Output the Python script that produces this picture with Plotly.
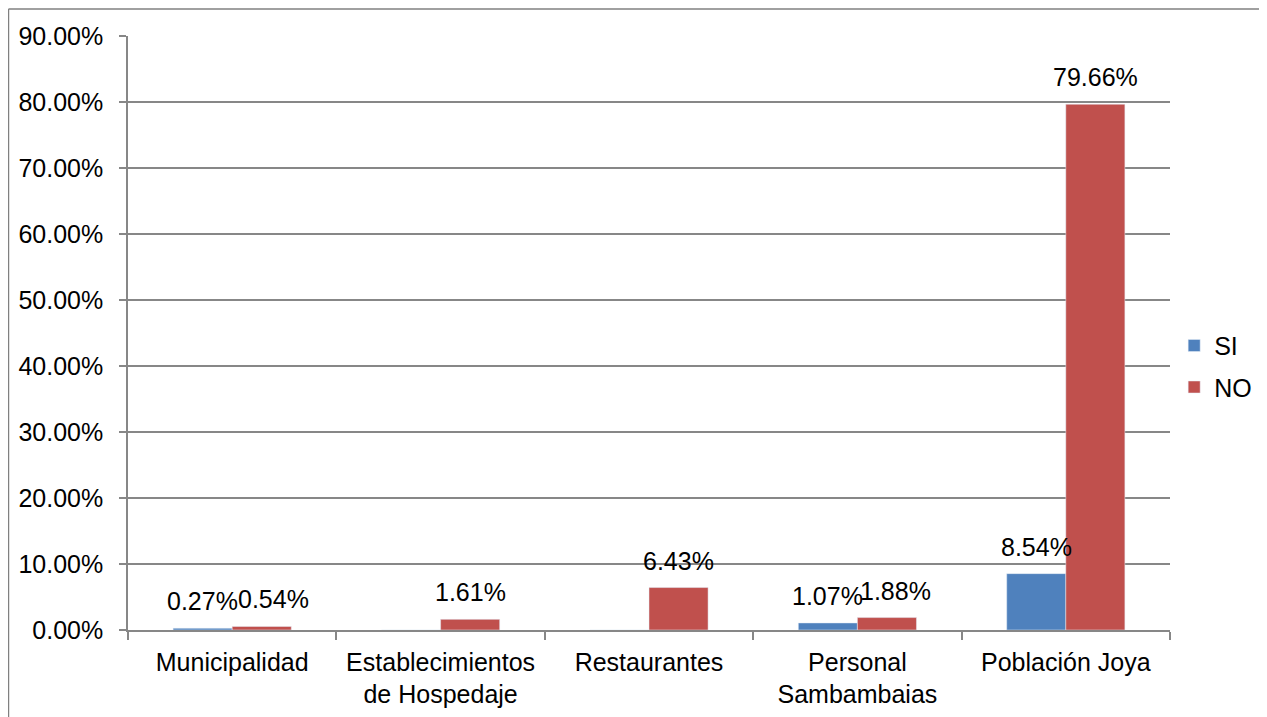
import plotly.graph_objects as go

categories = ["Municipalidad", "Establecimientos<br>de Hospedaje", "Restaurantes",
              "Personal<br>Sambambaias", "Población Joya"]
si_values = [0.0027, 0.0, 0.0, 0.0107, 0.0854]
no_values = [0.0054, 0.0161, 0.0643, 0.0188, 0.7966]
y_ticks = [0.0, 0.1, 0.2, 0.3, 0.4, 0.5, 0.6, 0.7, 0.8, 0.9]

BLUE = "#4F81BD"
RED = "#C0504D"
GRID = "#878787"
FONT = dict(family="Liberation Sans, Arial, sans-serif", size=25, color="#000000")

fig = go.Figure()
fig.add_trace(go.Bar(name="SI", x=categories, y=si_values, marker_color=BLUE,
                     legendgroup="si"))
fig.add_trace(go.Bar(name="NO", x=categories, y=no_values, marker_color=RED,
                     legendgroup="no"))

# extra horizontal nudges (px) for NO labels that collide with SI labels, as in the original
no_label_nudge = [12, 0, 0, 9, 0]

annotations = []
for vals, shift, nudges in ((si_values, -29.5, [0] * 5), (no_values, 29.5, no_label_nudge)):
    for c, v, n in zip(categories, vals, nudges):
        if v > 0:
            annotations.append(dict(x=c, y=v, xref="x", yref="y", text=f"{v*100:.2f}%",
                                    showarrow=False, xshift=shift + n, yshift=11,
                                    yanchor="bottom", font=FONT))

# page body has an 8px margin, so the figure is drawn at (8, 8)
fig.update_layout(
    width=1259, height=709,
    margin=dict(l=120, r=97, t=28, b=87, autoexpand=False),
    paper_bgcolor="white", plot_bgcolor="white",
    barmode="group", bargap=0.433, bargroupgap=0,
    font=FONT,
    showlegend=True,
    legend=dict(x=1.004, y=0.444, xanchor="left", yanchor="middle", font=FONT,
                tracegroupgap=6, itemwidth=30, bgcolor="rgba(0,0,0,0)"),
    annotations=annotations,
    shapes=[
        dict(type="line", xref="paper", yref="paper", x0=-0.1147, x1=1.2, y0=1.0455, y1=1.0455,
             line=dict(color="#808080", width=1.5)),
        dict(type="line", xref="paper", yref="paper", x0=-0.1147, x1=-0.1147, y0=1.0455, y1=-0.3,
             line=dict(color="#808080", width=1.5)),
    ],
)
fig.update_yaxes(range=[0, 0.9], tickvals=y_ticks, tickformat=".2%",
                 showgrid=True, gridcolor=GRID, gridwidth=1.5,
                 showline=True, linecolor=GRID, linewidth=1.5,
                 ticks="outside", ticklen=7, tickcolor=GRID, tickwidth=1.5,
                 ticklabelstandoff=11, zeroline=False, tickfont=FONT, automargin=False)
fig.update_xaxes(showline=True, linecolor=GRID, linewidth=1.5,
                 ticks="outside", ticklen=8, tickcolor=GRID, tickwidth=1.5,
                 ticklabelstandoff=9, tickson="boundaries", showgrid=False, tickfont=FONT,
                 automargin=False)

fig.write_html("out.html")
